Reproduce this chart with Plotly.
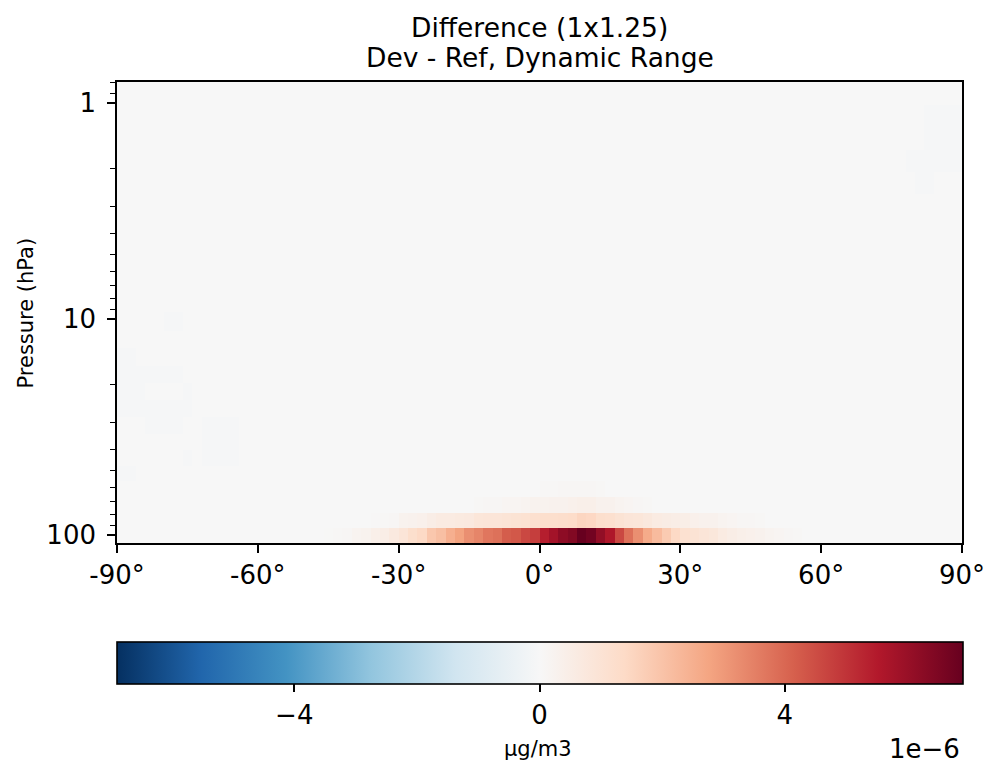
import math
import plotly.graph_objects as go

# ---------------- data ----------------
# latitude grid edges (2 degree bins) and GEOS-Chem 72L pressure edges (hPa), bottom -> top
lat_edges = list(range(-90, 92, 2))
pressure_edges = [108.663, 92.366, 78.512, 66.603, 56.388, 47.644, 40.175, 33.810,
                  28.368, 23.730, 19.791, 16.457, 13.643, 11.277, 9.292, 7.619,
                  6.217, 5.046, 4.076, 3.276, 2.620, 2.085, 1.651, 1.301, 1.019, 0.796]

# difference values (units of 1e-6 ug/m3), keyed by latitude-bin centre
level1_values = {  # 108.7 - 92.4 hPa
    -45: 0.02, -43: 0.05, -41: 0.08, -39: 0.2, -37: 0.25, -35: 0.4, -33: 0.5, -31: 0.7,
    -29: 0.9, -27: 1.2, -25: 1.4, -23: 1.9, -21: 2.1, -19: 2.5, -17: 2.8, -15: 3.2,
    -13: 3.4, -11: 3.7, -9: 3.8, -7: 4.2, -5: 4.3, -3: 4.6, -1: 4.8, 1: 5.4, 3: 5.8,
    5: 6.2, 7: 6.4, 9: 6.9, 11: 6.7, 13: 6.1, 15: 5.6, 17: 4.6, 19: 3.8, 21: 3.2,
    23: 2.6, 25: 2.2, 27: 1.8, 29: 1.4, 31: 1.1, 33: 1.0, 35: 0.9, 37: 0.8, 39: 0.6,
    41: 0.5, 43: 0.4, 45: 0.35, 47: 0.3, 49: 0.2, 51: 0.15, 53: 0.1, 55: 0.05,
}
level2_values = {  # 92.4 - 78.5 hPa
    -35: 0.03, -33: 0.05, -31: 0.1, -29: 0.25, -27: 0.3, -25: 0.35, -23: 0.5, -21: 0.6,
    -19: 0.6, -17: 0.65, -15: 0.7, -13: 0.85, -11: 0.9, -9: 0.9, -7: 0.95, -5: 1.0,
    -3: 1.05, -1: 1.15, 1: 1.2, 3: 1.2, 5: 1.25, 7: 1.3, 9: 1.5, 11: 1.45, 13: 1.2,
    15: 1.15, 17: 1.0, 19: 0.9, 21: 0.85, 23: 0.75, 25: 0.6, 27: 0.55, 29: 0.5,
    31: 0.45, 33: 0.35, 35: 0.3, 37: 0.3, 39: 0.2, 41: 0.15, 43: 0.1, 45: 0.1, 47: 0.05,
}
level3_values = {  # 78.5 - 66.6 hPa
    -13: 0.05, -11: 0.08, -9: 0.1, -7: 0.15, -5: 0.15, -3: 0.2, -1: 0.25, 1: 0.25,
    3: 0.3, 5: 0.3, 7: 0.35, 9: 0.4, 11: 0.4, 13: 0.3, 15: 0.3, 17: 0.2, 19: 0.15,
    21: 0.1, 23: 0.05,
}
level4_values = {  # 66.6 - 56.4 hPa
    1: 0.05, 3: 0.06, 5: 0.08, 7: 0.1, 9: 0.1, 11: 0.08, 13: 0.05,
}
# faint negative patches: (latitude-bin centre, level index from bottom, value)
faint_patches = [
    (83, 23, -0.08), (85, 23, -0.08), (87, 23, -0.08), (89, 23, -0.08),
    (83, 22, -0.08), (85, 22, -0.08), (87, 22, -0.08), (89, 22, -0.08),
    (79, 21, -0.08), (81, 21, -0.08), (83, 21, -0.08), (85, 21, -0.08), (87, 21, -0.08), (89, 21, -0.08),
    (81, 20, -0.06), (83, 20, -0.06),
    (-79, 13, -0.07), (-77, 13, -0.07),
    (-89, 11, -0.07), (-87, 11, -0.07),
    (-89, 10, -0.08), (-87, 10, -0.08), (-85, 10, -0.08), (-83, 10, -0.08), (-81, 10, -0.08), (-79, 10, -0.08), (-77, 10, -0.08),
    (-89, 9, -0.07), (-87, 9, -0.07), (-85, 9, -0.07), (-75, 9, -0.07),
    (-89, 8, -0.08), (-87, 8, -0.08), (-85, 8, -0.08), (-83, 8, -0.08), (-81, 8, -0.08), (-79, 8, -0.08), (-77, 8, -0.08), (-75, 8, -0.08),
    (-83, 7, -0.07), (-81, 7, -0.07), (-79, 7, -0.07), (-77, 7, -0.07),
    (-71, 7, -0.07), (-69, 7, -0.07), (-67, 7, -0.07), (-65, 7, -0.07),
    (-71, 6, -0.07), (-69, 6, -0.07), (-67, 6, -0.07), (-65, 6, -0.07),
    (-71, 5, -0.06), (-69, 5, -0.06), (-67, 5, -0.06), (-65, 5, -0.06), (-75, 5, -0.06),
    (-89, 4, -0.06), (-87, 4, -0.06),
]
scale = 1e-6
cmax = 6.9e-6

x_tickvals = [-90, -60, -30, 0, 30, 60, 90]
x_ticktext = ["-90°", "-60°", "-30°", "0°", "30°", "60°", "90°"]
y_tickvals = [1, 10, 100]
y_ticktext = ["1", "10", "100"]
y_minor = [0.8, 0.9, 2, 3, 4, 5, 6, 7, 8, 9, 20, 30, 40, 50, 60, 70, 80, 90]
cb_tickvals = [-4e-6, 0, 4e-6]
cb_ticktext = ["\u22124", "0", "4"]

# matplotlib RdBu_r
rdbu_r = ["rgb(5,48,97)", "rgb(33,102,172)", "rgb(67,147,195)", "rgb(146,197,222)",
          "rgb(209,229,240)", "rgb(247,247,247)", "rgb(253,219,199)", "rgb(244,165,130)",
          "rgb(214,96,77)", "rgb(178,24,43)", "rgb(103,0,31)"]
colorscale = [[i / 10, c] for i, c in enumerate(rdbu_r)]

# ---------------- build grid ----------------
lat_centres = [(lat_edges[i] + lat_edges[i + 1]) / 2 for i in range(len(lat_edges) - 1)]
nlev = len(pressure_edges) - 1
z = [[0.0 for _ in lat_centres] for _ in range(nlev)]
for lev, vals in enumerate([level1_values, level2_values, level3_values, level4_values]):
    for j, c in enumerate(lat_centres):
        z[lev][j] = vals.get(int(c), 0.0) * scale
for c, lev, v in faint_patches:
    j = lat_centres.index(c)
    z[lev][j] = v * scale

FONT = "DejaVu Sans"

fig = go.Figure(go.Heatmap(
    x=lat_edges, y=pressure_edges, z=z,
    colorscale=colorscale, zmin=-cmax, zmax=cmax,
    colorbar=dict(
        orientation="h", x=0.5, xanchor="center", y=-0.2148, yanchor="top",
        len=1.001, lenmode="fraction", thickness=42, thicknessmode="pixels",
        xpad=0, ypad=0, outlinewidth=1.6, outlinecolor="black",
        ticks="outside", ticklen=8, tickwidth=1.6, tickcolor="black",
        tickvals=cb_tickvals, ticktext=cb_ticktext,
        tickfont=dict(family=FONT, size=26, color="black"),
    ),
    hoverinfo="skip",
))

axis_common = dict(showline=True, linewidth=1.6, linecolor="black", mirror=True,
                   ticks="outside", ticklen=8, tickwidth=1.6, tickcolor="black",
                   showgrid=False, zeroline=False, automargin=False,
                   tickfont=dict(family=FONT, size=26, color="black"))

fig.update_xaxes(range=[-90, 90], tickmode="array", tickvals=x_tickvals,
                 ticktext=x_ticktext, **axis_common)
fig.update_yaxes(type="log", range=[math.log10(pressure_edges[0]), math.log10(pressure_edges[-1])],
                 tickmode="array", tickvals=y_tickvals, ticktext=y_ticktext,
                 ticklabelstandoff=6,
                 minor=dict(ticks="outside", ticklen=5, tickwidth=1.2, tickcolor="black",
                            tickmode="array", tickvals=y_minor, showgrid=False),
                 **axis_common)

ann_font = dict(family=FONT, color="black")
fig.update_layout(
    width=987, height=768,
    margin=dict(l=117, r=25, t=82, b=225, autoexpand=False),
    paper_bgcolor="white", plot_bgcolor="white",
    showlegend=False,
    annotations=[
        dict(text="Difference (1x1.25)", x=0.5, y=1.1193, xref="paper", yref="paper",
             xanchor="center", yanchor="middle", showarrow=False, font=dict(size=26.5, **ann_font)),
        dict(text="Dev - Ref, Dynamic Range", x=0.5, y=1.0542, xref="paper", yref="paper",
             xanchor="center", yanchor="middle", showarrow=False, font=dict(size=26.5, **ann_font)),
        dict(text="Pressure (hPa)", x=-0.1077, y=0.5, xref="paper", yref="paper",
             xanchor="center", yanchor="middle", textangle=-90, showarrow=False,
             font=dict(size=21, **ann_font)),
        dict(text="µg/m3", x=0.498, y=-0.447, xref="paper", yref="paper",
             xanchor="center", yanchor="middle", showarrow=False, font=dict(size=21, **ann_font)),
        dict(text="1e\u22126", x=1.0, y=-0.447, xref="paper", yref="paper",
             xanchor="right", yanchor="middle", showarrow=False, font=dict(size=26, **ann_font)),
    ],
)

fig.write_html("out.html", config={"displayModeBar": False},
               post_script="document.body.style.margin='0px';document.body.style.overflow='hidden';")
